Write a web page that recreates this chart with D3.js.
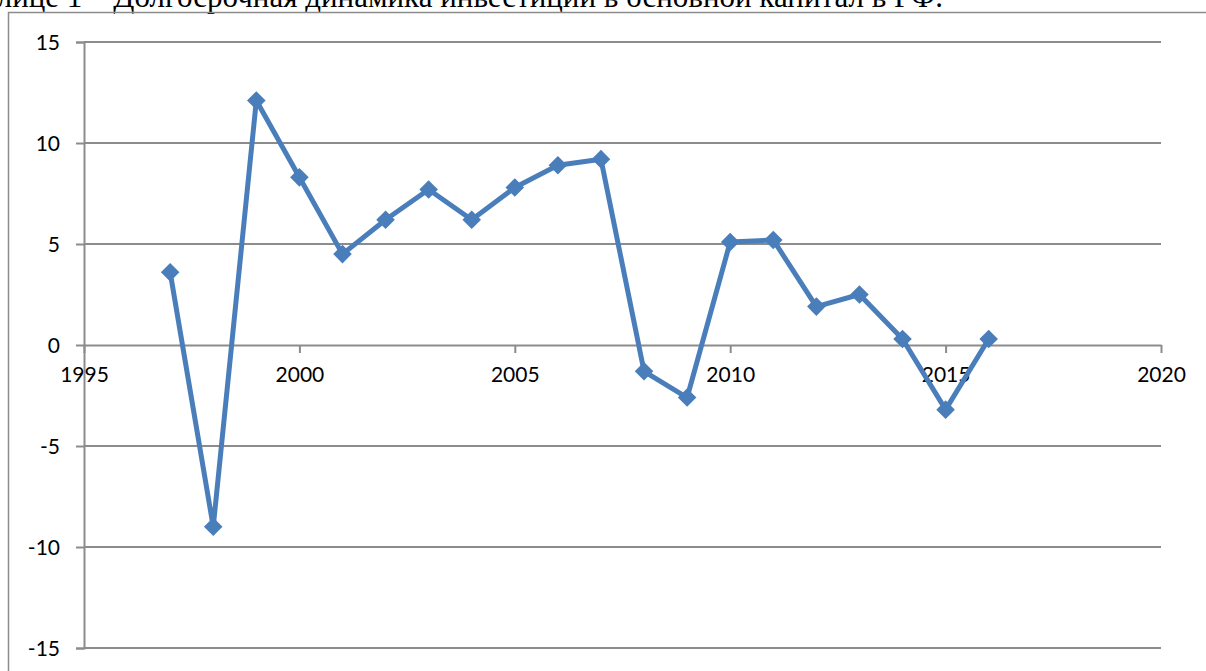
<!DOCTYPE html>
<html>
<head>
<meta charset="utf-8">
<script src="https://d3js.org/d3.v7.min.js"></script>
<style>
    body { margin: 0; background: #ffffff; overflow: hidden; }
    svg { display: block; }
    .tick text { font-family: "Lato", "Open Sans", sans-serif; font-size: 21px; fill: #000; }
</style>
</head>
<body>
<svg id="chart" width="1206" height="671"></svg>
<script>
    // data
    var years = [1997, 1998, 1999, 2000, 2001, 2002, 2003, 2004, 2005, 2006, 2007,
                 2008, 2009, 2010, 2011, 2012, 2013, 2014, 2015, 2016];
    var values = [3.6, -9.0, 12.1, 8.3, 4.5, 6.2, 7.7, 6.2, 7.8, 8.9, 9.2,
                  -1.3, -2.6, 5.1, 5.2, 1.9, 2.5, 0.3, -3.2, 0.3];
    var xTicks = [1995, 2000, 2005, 2010, 2015, 2020];
    var yTicks = [-15, -10, -5, 0, 5, 10, 15];
    var caption = "в таблице 1 – Долгосрочная динамика инвестиций в основной капитал в РФ.";

    var svg = d3.select("#chart");
    var gray = "#8c8c8c";

    // caption above the chart, cut off at the top of the page like in the scan
    svg.append("text")
        .attr("x", 943)
        .attr("y", 7)
        .attr("text-anchor", "end")
        .style("font-family", "'Liberation Serif', 'DejaVu Serif', serif")
        .style("font-size", "31px")
        .text(caption);

    // chart frame
    svg.append("rect")
        .attr("x", 8.5).attr("y", 12.5)
        .attr("width", 1300).attr("height", 700)
        .attr("fill", "none")
        .attr("stroke", gray)
        .attr("stroke-width", 1.5);

    var x = d3.scaleLinear().domain([1995, 2020]).range([84, 1161]);
    var y = d3.scaleLinear().domain([-15, 15]).range([648, 42]);

    // y axis labels use a plain hyphen, like Excel
    var yAxis = svg.append("g")
        .attr("transform", "translate(" + x(1995) + ",0)")
        .call(d3.axisLeft(y).tickValues(yTicks).tickSize(8).tickPadding(16)
            .tickFormat(function(d) { return String(d); }));
    yAxis.select(".domain").attr("stroke", gray).attr("stroke-width", 2);
    yAxis.selectAll(".tick line").attr("stroke", gray).attr("stroke-width", 2);
    yAxis.selectAll(".tick text").attr("dy", "0.35em");

    // horizontal gridlines
    svg.append("g").selectAll("line")
        .data(yTicks.filter(function(d) { return d !== 0; }))
        .enter().append("line")
        .attr("x1", x(1995)).attr("x2", x(2020))
        .attr("y1", function(d) { return y(d); })
        .attr("y2", function(d) { return y(d); })
        .attr("stroke", gray)
        .attr("stroke-width", 2);

    // x axis along zero
    var xAxis = svg.append("g")
        .attr("transform", "translate(0," + y(0) + ")")
        .call(d3.axisBottom(x).tickValues(xTicks).tickFormat(d3.format("d")).tickSize(8).tickPadding(14).tickSizeOuter(0));
    xAxis.select(".domain").attr("stroke", gray).attr("stroke-width", 2);
    xAxis.selectAll(".tick line").attr("stroke", gray).attr("stroke-width", 2);

    var data = years.map(function(yr, i) { return { year: yr, value: values[i] }; });
    var blue = "#4a7ebb";

    var line = d3.line()
        .x(function(d) { return x(d.year); })
        .y(function(d) { return y(d.value); });

    svg.append("path")
        .datum(data)
        .attr("fill", "none")
        .attr("stroke", blue)
        .attr("stroke-width", 5)
        .attr("stroke-linejoin", "round")
        .attr("d", line);

    svg.append("g").selectAll("path")
        .data(data)
        .enter().append("path")
        .attr("d", d3.symbol().type(d3.symbolDiamond2).size(220))
        .attr("transform", function(d) { return "translate(" + x(d.year) + "," + y(d.value) + ")"; })
        .attr("fill", blue);
</script>
</body>
</html>
